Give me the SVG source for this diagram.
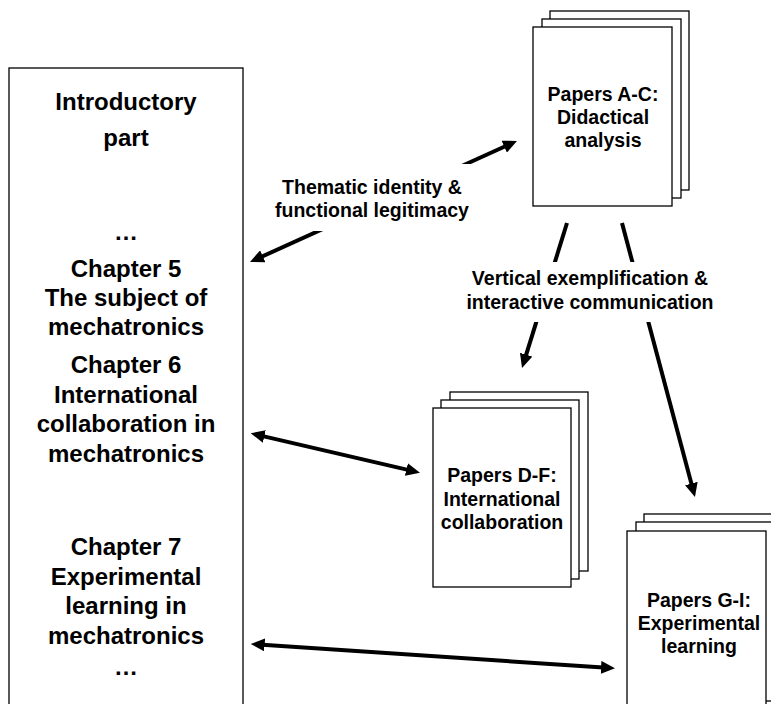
<svg xmlns="http://www.w3.org/2000/svg" width="771" height="704" viewBox="0 0 771 704">
  <style>
    .box { fill: #fff; stroke: #000; stroke-width: 1.3; }
    .sheet { fill: #fff; stroke: #000; stroke-width: 1.3; }
    .big { font-family: "Liberation Sans", Arial, sans-serif; font-weight: bold; font-size: 24px; text-anchor: middle; fill: #000; }
    .txt { font-family: "Liberation Sans", Arial, sans-serif; font-weight: bold; font-size: 19.5px; text-anchor: middle; fill: #000; }
    .conn { fill: none; stroke: #000; stroke-width: 4; }
    .labelbg { fill: #fff; stroke: none; }
  </style>
  <defs>
    <marker id="head" markerUnits="userSpaceOnUse" markerWidth="14" markerHeight="13" refX="6" refY="6.5" orient="auto-start-reverse">
      <path d="M0,0 L14,6.5 L0,13 Z" fill="#000"/>
    </marker>
  </defs>
  <rect width="771" height="704" fill="#fff"/>

  <!-- Thesis outline column -->
  <g id="thesis">
    <rect class="box" x="9" y="68" width="234" height="700"/>
    <text class="big" x="126" y="110">Introductory</text>
    <text class="big" x="126" y="146">part</text>
    <text class="big" x="126" y="240">…</text>
    <text class="big" x="126" y="277">Chapter 5</text>
    <text class="big" x="126" y="306">The subject of</text>
    <text class="big" x="126" y="335">mechatronics</text>
    <text class="big" x="126" y="373">Chapter 6</text>
    <text class="big" x="126" y="403">International</text>
    <text class="big" x="126" y="432">collaboration in</text>
    <text class="big" x="126" y="462">mechatronics</text>
    <text class="big" x="126" y="555">Chapter 7</text>
    <text class="big" x="126" y="585">Experimental</text>
    <text class="big" x="126" y="614">learning in</text>
    <text class="big" x="126" y="644">mechatronics</text>
    <text class="big" x="126" y="675">…</text>
  </g>

  <!-- Connectors -->
  <g id="connectors">
    <path class="conn" d="M257.3,258.7 L509.7,144.2" marker-start="url(#head)" marker-end="url(#head)"/>
    <path class="conn" d="M567,223 L524.4,360.4" marker-end="url(#head)"/>
    <path class="conn" d="M622,223 L692.9,489.3" marker-end="url(#head)"/>
    <path class="conn" d="M258.5,435.1 L412.2,470.9" marker-start="url(#head)" marker-end="url(#head)"/>
    <path class="conn" d="M258.7,644.5 L607,667.8" marker-start="url(#head)" marker-end="url(#head)"/>
  </g>

  <!-- Connector labels -->
  <g id="label-thematic">
    <rect class="labelbg" x="270" y="164" width="205" height="67"/>
    <text class="txt" x="372" y="194">Thematic identity &amp;</text>
    <text class="txt" x="372" y="217">functional legitimacy</text>
  </g>
  <g id="label-vertical">
    <rect class="labelbg" x="462" y="262" width="256" height="60"/>
    <text class="txt" x="590" y="285">Vertical exemplification &amp;</text>
    <text class="txt" x="590" y="309">interactive communication</text>
  </g>

  <!-- Paper stacks -->
  <g id="papers-a-c">
    <rect class="sheet" x="550" y="11" width="139" height="179"/>
    <rect class="sheet" x="542" y="19" width="139" height="179"/>
    <rect class="sheet" x="533" y="27" width="139" height="179"/>
    <text class="txt" x="603" y="101">Papers A-C:</text>
    <text class="txt" x="603" y="124">Didactical</text>
    <text class="txt" x="603" y="147">analysis</text>
  </g>
  <g id="papers-d-f">
    <rect class="sheet" x="450" y="392" width="138" height="179"/>
    <rect class="sheet" x="441" y="400" width="138" height="179"/>
    <rect class="sheet" x="433" y="408" width="138" height="179"/>
    <text class="txt" x="502" y="482">Papers D-F:</text>
    <text class="txt" x="502" y="505.5">International</text>
    <text class="txt" x="502" y="529">collaboration</text>
  </g>
  <g id="papers-g-i">
    <rect class="sheet" x="644" y="514" width="139" height="179"/>
    <rect class="sheet" x="636" y="522" width="139" height="179"/>
    <rect class="sheet" x="627" y="531" width="139" height="179"/>
    <text class="txt" x="699" y="607">Papers G-I:</text>
    <text class="txt" x="699" y="630">Experimental</text>
    <text class="txt" x="699" y="653">learning</text>
  </g>
</svg>
